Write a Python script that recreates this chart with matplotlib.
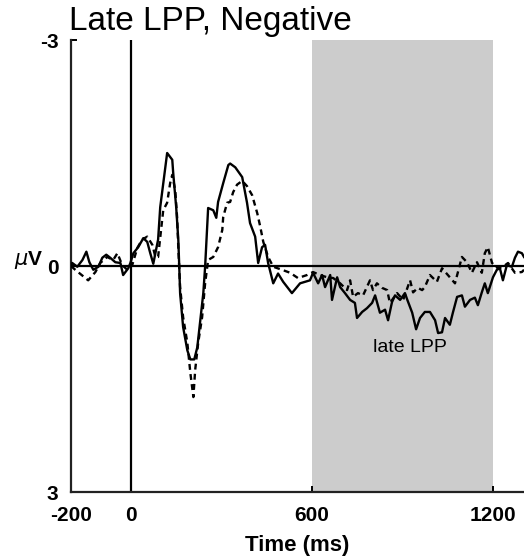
import numpy as np
import matplotlib
matplotlib.use('Agg')
import matplotlib.pyplot as plt
import matplotlib.transforms as mtransforms

plt.rcParams['font.family'] = ['Liberation Sans', 'DejaVu Sans']
plt.rcParams['axes.unicode_minus'] = False

# ERP waveforms (ms, uV)
t_solid = [-200, -196, -179, -162, -149, -139, -126, -109, -96, -83,
           -70, -53, -36, -27, -10, -3, 7, 23, 40, 53,
           63, 73, 89, 96, 119, 136, 139, 149, 156, 159,
           162, 172, 186, 196, 209, 219, 229, 239, 245, 255,
           272, 282, 288, 305, 322, 328, 345, 368, 384, 394,
           411, 421, 434, 444, 454, 471, 487, 504, 533, 560,
           593, 603, 620, 633, 643, 660, 666, 683, 693, 709,
           726, 742, 749, 766, 782, 799, 809, 825, 842, 852,
           865, 875, 892, 908, 915, 932, 945, 958, 974, 991,
           1008, 1018, 1031, 1041, 1057, 1067, 1081, 1097, 1107, 1124,
           1140, 1150, 1163, 1173, 1183, 1200, 1213, 1223, 1233, 1246,
           1263, 1273, 1283, 1296, 1303]
v_solid = [0.0, -0.04, 0.01, -0.08, -0.19, -0.05, 0.05, 0.01, -0.11, -0.15,
           -0.11, -0.05, -0.04, 0.12, 0.03, -0.04, -0.17, -0.25, -0.37, -0.32,
           -0.17, -0.03, -0.35, -0.78, -1.50, -1.41, -1.24, -0.78, -0.35, -0.01,
           0.36, 0.81, 1.12, 1.24, 1.24, 1.08, 0.72, 0.36, 0.01, -0.77,
           -0.74, -0.64, -0.85, -1.10, -1.34, -1.36, -1.31, -1.18, -0.84, -0.57,
           -0.39, -0.04, -0.25, -0.28, -0.04, 0.23, 0.10, 0.21, 0.36, 0.23,
           0.19, 0.09, 0.23, 0.12, 0.28, 0.12, 0.45, 0.15, 0.28, 0.36,
           0.45, 0.49, 0.69, 0.61, 0.56, 0.49, 0.39, 0.62, 0.58, 0.72,
           0.48, 0.39, 0.45, 0.36, 0.44, 0.62, 0.84, 0.69, 0.61, 0.61,
           0.72, 0.89, 0.88, 0.69, 0.78, 0.62, 0.41, 0.39, 0.54, 0.45,
           0.42, 0.52, 0.35, 0.23, 0.36, 0.15, 0.05, 0.03, 0.19, -0.01,
           0.01, -0.11, -0.19, -0.17, -0.12]

t_dash = [-200, -186, -143, -119, -103, -80, -60, -46, -30, -13,
          3, 20, 36, 53, 70, 80, 89, 106, 119, 129,
          136, 146, 152, 156, 162, 172, 186, 196, 206, 212,
          222, 235, 245, 255, 272, 288, 302, 305, 318, 328,
          338, 351, 368, 384, 401, 418, 428, 438, 454, 471,
          500, 527, 553, 583, 603, 626, 650, 670, 693, 716,
          726, 736, 752, 769, 792, 802, 815, 832, 849, 858,
          882, 902, 925, 935, 951, 965, 974, 991, 1014, 1031,
          1057, 1074, 1097, 1114, 1130, 1147, 1163, 1173, 1183, 1197,
          1216, 1233, 1250, 1273, 1296, 1303]
v_dash = [0.0, 0.05, 0.19, 0.08, -0.04, -0.12, -0.08, -0.17, -0.01, 0.05,
          -0.01, -0.24, -0.35, -0.39, -0.28, -0.12, -0.12, -0.74, -0.84, -1.10,
          -1.21, -1.0, -0.65, -0.25, 0.28, 0.68, 1.02, 1.42, 1.74, 1.38,
          1.02, 0.68, 0.23, -0.08, -0.12, -0.25, -0.48, -0.65, -0.84, -0.85,
          -0.98, -1.08, -1.13, -1.06, -0.94, -0.70, -0.52, -0.32, -0.12, 0.01,
          0.05, 0.09, 0.16, 0.12, 0.08, 0.12, 0.15, 0.16, 0.23, 0.32,
          0.19, 0.41, 0.36, 0.39, 0.19, 0.32, 0.23, 0.29, 0.32, 0.49,
          0.36, 0.45, 0.19, 0.35, 0.29, 0.32, 0.28, 0.12, 0.21, 0.03,
          0.15, 0.23, -0.12, -0.05, 0.09, -0.05, 0.09, -0.17, -0.25, -0.04,
          0.03, 0.01, -0.04, 0.09, 0.08, 0.05]

window = (600, 1200)
x_ticks = [-200, 0, 600, 1200]
y_ticks = [-3, 0, 3]

W, H = 524, 559
fig = plt.figure(figsize=(W / 100, H / 100), dpi=100)
ax = fig.add_axes([71 / W, (H - 492) / H, (W - 71) / W, (492 - 40) / H])

ax.axvspan(window[0], window[1], color='#cccccc', lw=0, zorder=0)
ax.axhline(0, color='k', lw=1.6, zorder=1)
ax.axvline(0, color='k', lw=1.6, zorder=1)

ax.plot(t_solid, v_solid, color='k', lw=1.7, zorder=3)
ax.plot(t_dash, v_dash, color='k', lw=1.7, ls=(0, (2.5, 1.8)), zorder=3)

ax.set_xlim(-200, 1303)
ax.set_ylim(3, -3)

for s in ['top', 'right']:
    ax.spines[s].set_visible(False)
for s in ['left', 'bottom']:
    ax.spines[s].set_linewidth(1.6)
    ax.spines[s].set_color('#222222')

ax.set_xticks(x_ticks)
ax.set_yticks(y_ticks)
ax.tick_params(direction='in', length=4, width=1.4, labelsize=15)
ax.tick_params(axis='x', pad=10)
ax.tick_params(axis='y', pad=9)
for lab in ax.get_xticklabels() + ax.get_yticklabels():
    lab.set_fontweight('bold')

ax.set_xlabel('Time (ms)', fontsize=16, fontweight='bold', labelpad=7)
ax.set_title('Late LPP, Negative', loc='left', fontsize=24, pad=7, x=-0.005)

trans = mtransforms.blended_transform_factory(ax.transAxes, ax.transData)
ax.text(-0.061, -0.08, r'$\mu$V', transform=trans, ha='right', va='center',
        fontsize=15, fontweight='bold')

ax.text(925, 1.08, 'late LPP', ha='center', va='center', fontsize=14)

fig.savefig('out.png', dpi=100)
